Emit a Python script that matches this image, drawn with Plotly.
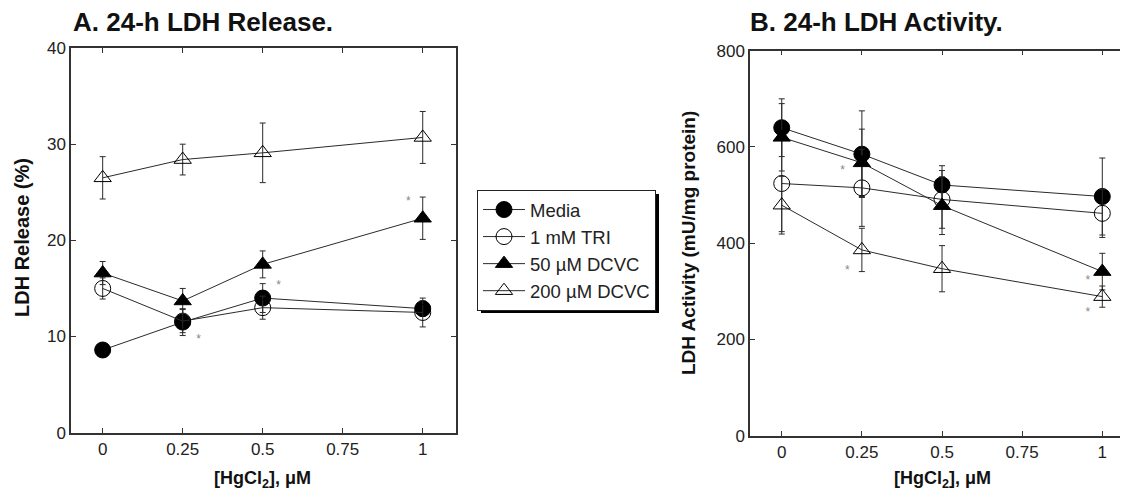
import plotly.graph_objects as go

W, H = 1128, 495
OFF = 8  # page body margin offset

x_conc = [0, 0.25, 0.5, 1]
x_ticks = [0, 0.25, 0.5, 0.75, 1]
x_ticklabels = ["0", "0.25", "0.5", "0.75", "1"]

series_names = ["Media", "1 mM TRI", "50 µM DCVC", "200 µM DCVC"]

# Panel A: LDH release (%)
rel_media = [8.6, 11.5, 14.0, 12.9]
rel_media_err = [0.3, 1.4, 1.5, 0.8]
rel_tri = [15.0, 11.6, 13.0, 12.5]
rel_tri_err = [1.1, 1.2, 1.2, 1.5]
rel_d50 = [16.6, 13.7, 17.5, 22.3]
rel_d50_err = [1.2, 1.3, 1.4, 2.2]
rel_d200 = [26.5, 28.4, 29.1, 30.7]
rel_d200_err = [2.2, 1.6, 3.1, 2.7]
rel_star_x = [0.30, 0.55, 0.955]
rel_star_y = [9.6, 15.3, 24.0]

# Panel B: LDH activity (mU/mg protein)
act_media = [640, 585, 521, 497]
act_media_err = [60, 90, 40, 80]
act_tri = [524, 515, 491, 462]
act_tri_err = [100, 80, 60, 50]
act_d50 = [620, 567, 478, 341]
act_d50_err = [70, 70, 60, 38]
act_d200 = [479, 386, 347, 289]
act_d200_err = [60, 45, 48, 22]
act_star_x = [0.19, 0.205, 0.955, 0.955]
act_star_y = [550, 343, 322, 255]

symbols = ["circle", "circle-open", "triangle-up", "triangle-up-open"]
sizes = [16, 16, 15, 15]
LC = "#2a2a2a"
FONT = "Liberation Sans, Arial, sans-serif"


def px(x):
    return (x - OFF) / W


def py(y):
    return 1 - (y - OFF) / H


fig = go.Figure()

panelA = [(rel_media, rel_media_err), (rel_tri, rel_tri_err), (rel_d50, rel_d50_err), (rel_d200, rel_d200_err)]
panelB = [(act_media, act_media_err), (act_tri, act_tri_err), (act_d50, act_d50_err), (act_d200, act_d200_err)]

for i, (ys, es) in enumerate(panelA):
    fig.add_trace(go.Scatter(
        x=x_conc, y=ys, mode="lines+markers", name=series_names[i],
        line=dict(color=LC, width=1),
        marker=dict(symbol=symbols[i], size=sizes[i], color="black",
                    line=dict(color="black", width=1)),
        error_y=dict(type="data", array=es, visible=True, color=LC, thickness=1, width=3),
        xaxis="x", yaxis="y", showlegend=True, legendrank=i,
    ))
for i, (ys, es) in enumerate(panelB):
    fig.add_trace(go.Scatter(
        x=x_conc, y=ys, mode="lines+markers", name=series_names[i],
        line=dict(color=LC, width=1),
        marker=dict(symbol=symbols[i], size=sizes[i], color="black",
                    line=dict(color="black", width=1)),
        error_y=dict(type="data", array=es, visible=True, color=LC, thickness=1, width=3),
        xaxis="x2", yaxis="y2", showlegend=False,
    ))

fig.add_trace(go.Scatter(x=rel_star_x, y=rel_star_y, mode="text", text=["*"] * len(rel_star_x),
                         textfont=dict(size=12, color="#888888", family=FONT),
                         xaxis="x", yaxis="y", showlegend=False, hoverinfo="skip"))
fig.add_trace(go.Scatter(x=act_star_x, y=act_star_y, mode="text", text=["*"] * len(act_star_x),
                         textfont=dict(size=12, color="#888888", family=FONT),
                         xaxis="x2", yaxis="y2", showlegend=False, hoverinfo="skip"))

axis_common = dict(showline=True, linecolor="#333333", linewidth=1.5, mirror="ticks",
                   ticks="inside", ticklen=5, tickwidth=1, tickcolor="#333333",
                   showgrid=False, zeroline=False, automargin=False,
                   tickfont=dict(family=FONT, size=17, color="#222222"))

fig.update_layout(
    width=W, height=H,
    margin=dict(l=0, r=0, t=0, b=0, pad=0, autoexpand=False),
    paper_bgcolor="white", plot_bgcolor="white",
    font=dict(family=FONT, color="#111111"),
    xaxis=dict(domain=[px(71), px(456)], range=[-0.099, 1.104], tickvals=x_ticks,
               ticktext=x_ticklabels, anchor="y", **axis_common),
    yaxis=dict(domain=[py(432.7), py(48)], range=[0, 40], tickvals=[0, 10, 20, 30, 40],
               anchor="x", **axis_common),
    xaxis2=dict(domain=[px(750), px(1131)], range=[-0.099, 1.0895], tickvals=x_ticks,
                ticktext=x_ticklabels, anchor="y2", **axis_common),
    yaxis2=dict(domain=[py(435.7), py(50.7)], range=[0, 800], tickvals=[0, 200, 400, 600, 800],
                anchor="x2", **axis_common),
    legend=dict(x=px(477), y=py(190), xanchor="left", yanchor="top",
                bgcolor="white", bordercolor="#222222", borderwidth=1,
                font=dict(family=FONT, size=18.5, color="#222222"),
                itemwidth=42, tracegroupgap=0),
    showlegend=True,
)

# legend drop shadow
fig.add_shape(type="rect", xref="paper", yref="paper",
              x0=px(481), x1=px(659), y0=py(313), y1=py(194),
              fillcolor="black", line=dict(width=0), layer="below")

ann = []
ann.append(dict(text="<b>A. 24-h LDH Release.</b>", x=px(71), y=py(22), xref="paper", yref="paper",
                xanchor="left", yanchor="middle", showarrow=False, font=dict(size=26, family=FONT, color="#111")))
ann.append(dict(text="<b>B. 24-h LDH Activity.</b>", x=px(748), y=py(22), xref="paper", yref="paper",
                xanchor="left", yanchor="middle", showarrow=False, font=dict(size=26, family=FONT, color="#111")))
ann.append(dict(text="<b>LDH Release (%)</b>", x=px(22), y=py(238), xref="paper", yref="paper",
                textangle=-90, xanchor="center", yanchor="middle", showarrow=False,
                font=dict(size=20, family=FONT, color="#111")))
ann.append(dict(text="<b>LDH Activity (mU/mg protein)</b>", x=px(689), y=py(243), xref="paper", yref="paper",
                textangle=-90, xanchor="center", yanchor="middle", showarrow=False,
                font=dict(size=19, family=FONT, color="#111")))
ann.append(dict(text="<b>[HgCl<sub>2</sub>], μM</b>", x=px(262), y=py(479), xref="paper", yref="paper",
                xanchor="center", yanchor="middle", showarrow=False, font=dict(size=18, family=FONT, color="#111")))
ann.append(dict(text="<b>[HgCl<sub>2</sub>], μM</b>", x=px(942), y=py(479), xref="paper", yref="paper",
                xanchor="center", yanchor="middle", showarrow=False, font=dict(size=18, family=FONT, color="#111")))
fig.update_layout(annotations=ann)

fig.write_html("out.html")
